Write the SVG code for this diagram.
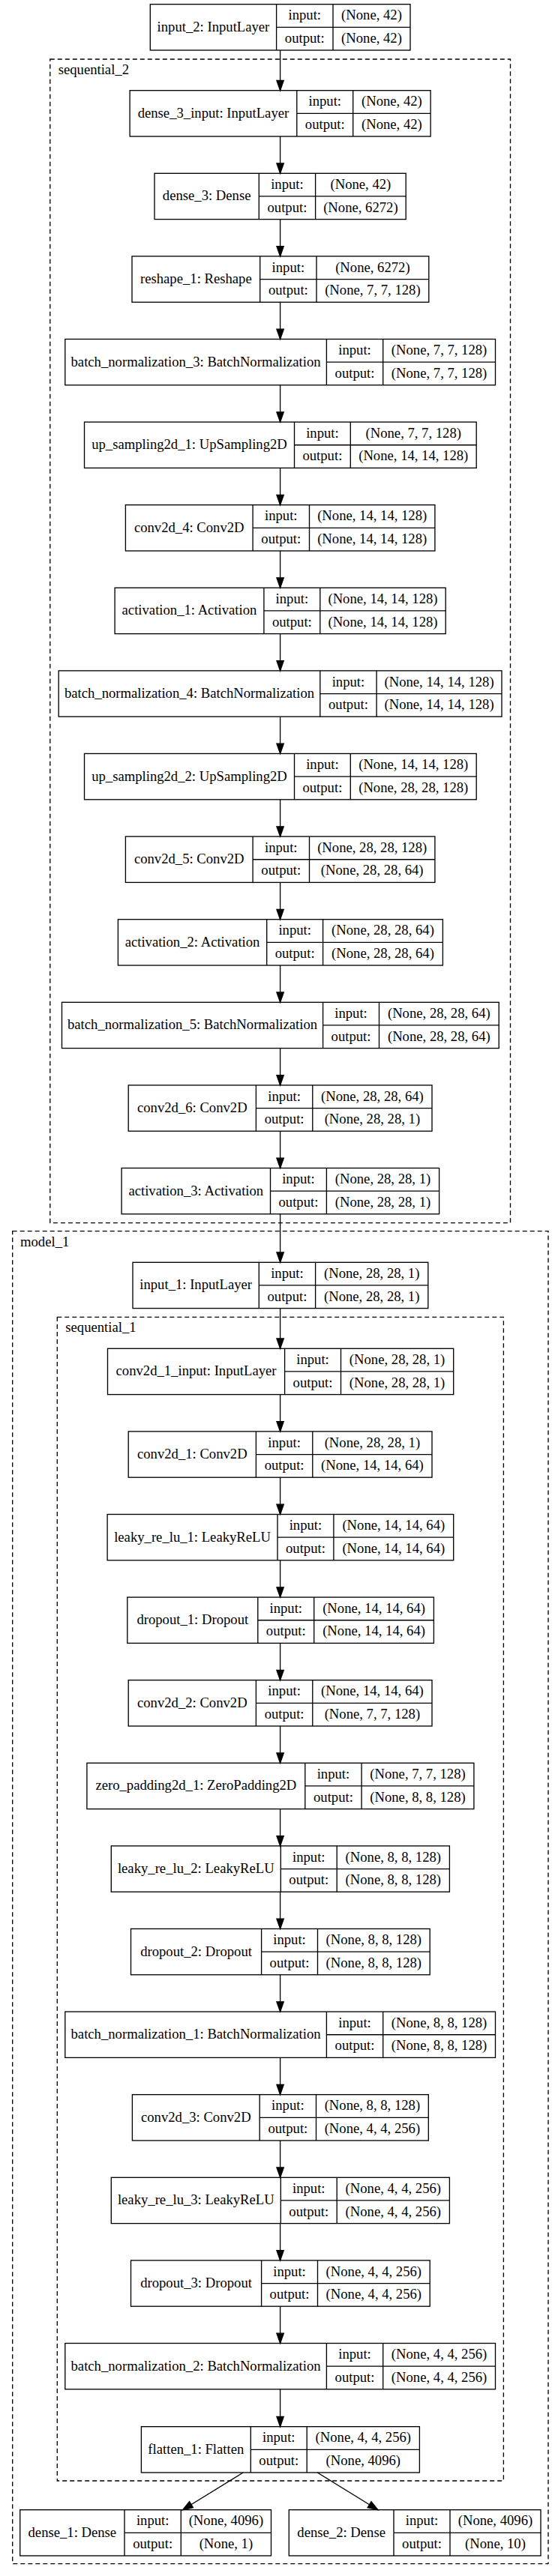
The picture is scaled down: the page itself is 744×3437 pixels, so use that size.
<svg xmlns="http://www.w3.org/2000/svg" width="744" height="3437" viewBox="0 0 744 3437">
<style>
text{font-family:"Liberation Serif","Times New Roman",serif;font-size:18.67px;fill:#000;text-anchor:middle}
.lbl{text-anchor:start}
.n rect,.n path{fill:none;stroke:#000;stroke-width:1.33}
.cl{fill:none;stroke:#000;stroke-width:1.33;stroke-dasharray:6,4}
.e{fill:none;stroke:#000;stroke-width:1.33;marker-end:url(#arr)}
</style>
<defs>
<marker id="arr" markerUnits="userSpaceOnUse" viewBox="-2 -7 18 14" refX="13.3" refY="0" markerWidth="18" markerHeight="14" orient="auto" overflow="visible">
<path d="M0,-4.67 L13.3,0 L0,4.67 Z" fill="#000" stroke="#000" stroke-width="1.33"/>
</marker>
</defs>
<rect x="0" y="0" width="744" height="3437" fill="#fff"/>

<g id="clusters">
<g id="cluster_sequential_2"><rect class="cl" x="66.8" y="79" width="613.7" height="1552.7"/><text class="lbl" x="77.7" y="98.5">sequential_2</text></g>
<g id="cluster_model_1"><rect class="cl" x="16.7" y="1642.7" width="714.3" height="1778"/><text class="lbl" x="27" y="1662.5">model_1</text></g>
<g id="cluster_sequential_1"><rect class="cl" x="76.3" y="1757.3" width="595.1" height="1552.7"/><text class="lbl" x="87.3" y="1776.8">sequential_1</text></g>
</g>

<g id="edges">
<path class="e" d="M373.6,67 V120.7"/>
<path class="e" d="M373.6,182 V231.3"/>
<path class="e" d="M373.6,292.6 V341.9"/>
<path class="e" d="M373.6,403.2 V452.5"/>
<path class="e" d="M373.6,513.8 V563.1"/>
<path class="e" d="M373.6,624.4 V673.7"/>
<path class="e" d="M373.6,735 V784.3"/>
<path class="e" d="M373.6,845.6 V894.9"/>
<path class="e" d="M373.6,956.2 V1005.5"/>
<path class="e" d="M373.6,1066.8 V1116.1"/>
<path class="e" d="M373.6,1177.4 V1226.7"/>
<path class="e" d="M373.6,1288 V1337.3"/>
<path class="e" d="M373.6,1398.6 V1447.9"/>
<path class="e" d="M373.6,1509.2 V1558.5"/>
<path class="e" d="M373.6,1619.8 V1684.3"/>
<path class="e" d="M373.6,1745.6 V1799.3"/>
<path class="e" d="M373.6,1860.6 V1909.9"/>
<path class="e" d="M373.6,1971.2 V2020.5"/>
<path class="e" d="M373.6,2081.8 V2131.1"/>
<path class="e" d="M373.6,2192.4 V2241.7"/>
<path class="e" d="M373.6,2303 V2352.3"/>
<path class="e" d="M373.6,2413.6 V2462.9"/>
<path class="e" d="M373.6,2524.2 V2573.5"/>
<path class="e" d="M373.6,2634.8 V2684.1"/>
<path class="e" d="M373.6,2745.4 V2794.7"/>
<path class="e" d="M373.6,2856 V2905.3"/>
<path class="e" d="M373.6,2966.6 V3015.9"/>
<path class="e" d="M373.6,3077.2 V3126.5"/>
<path class="e" d="M373.6,3187.8 V3237.7"/>
<path class="e" d="M324.2,3299 L243.7,3348.7"/>
<path class="e" d="M423.2,3299 L503.9,3348.7"/>
</g>

<g id="input_2" class="n"><rect x="200.3" y="5.7" width="346.7" height="61.3"/><path d="M368.6,5.7V67M444,5.7V67M368.6,36.35H547"/><text x="284.45" y="41.7">input_2: InputLayer</text><text x="406.3" y="26.3">input:</text><text x="406.3" y="57">output:</text><text x="495.5" y="26.3">(None, 42)</text><text x="495.5" y="57">(None, 42)</text></g>

<g id="dense_3_input" class="n"><rect x="173.1" y="120.7" width="401" height="61.3"/><path d="M395.8,120.7V182M470.7,120.7V182M395.8,151.35H574.1"/><text x="284.45" y="156.7">dense_3_input: InputLayer</text><text x="433.25" y="141.3">input:</text><text x="433.25" y="172">output:</text><text x="522.4" y="141.3">(None, 42)</text><text x="522.4" y="172">(None, 42)</text></g>

<g id="dense_3" class="n"><rect x="206" y="231.3" width="335.2" height="61.3"/><path d="M345.3,231.3V292.6M420.6,231.3V292.6M345.3,261.95H541.2"/><text x="275.65" y="267.3">dense_3: Dense</text><text x="382.95" y="251.9">input:</text><text x="382.95" y="282.6">output:</text><text x="480.9" y="251.9">(None, 42)</text><text x="480.9" y="282.6">(None, 6272)</text></g>

<g id="reshape_1" class="n"><rect x="176" y="341.9" width="395.8" height="61.3"/><path d="M346.7,341.9V403.2M422,341.9V403.2M346.7,372.55H571.8"/><text x="261.35" y="377.9">reshape_1: Reshape</text><text x="384.35" y="362.5">input:</text><text x="384.35" y="393.2">output:</text><text x="496.9" y="362.5">(None, 6272)</text><text x="496.9" y="393.2">(None, 7, 7, 128)</text></g>

<g id="batch_normalization_3" class="n"><rect x="86.8" y="452.5" width="573.7" height="61.3"/><path d="M435.4,452.5V513.8M510.7,452.5V513.8M435.4,483.15H660.5"/><text x="261.1" y="488.5">batch_normalization_3: BatchNormalization</text><text x="473.05" y="473.1">input:</text><text x="473.05" y="503.8">output:</text><text x="585.6" y="473.1">(None, 7, 7, 128)</text><text x="585.6" y="503.8">(None, 7, 7, 128)</text></g>

<g id="up_sampling2d_1" class="n"><rect x="112.5" y="563.1" width="522.7" height="61.3"/><path d="M392.5,563.1V624.4M467.3,563.1V624.4M392.5,593.75H635.2"/><text x="252.5" y="599.1">up_sampling2d_1: UpSampling2D</text><text x="429.9" y="583.7">input:</text><text x="429.9" y="614.4">output:</text><text x="551.25" y="583.7">(None, 7, 7, 128)</text><text x="551.25" y="614.4">(None, 14, 14, 128)</text></g>

<g id="conv2d_4" class="n"><rect x="167.4" y="673.7" width="412.5" height="61.3"/><path d="M337.1,673.7V735M412.5,673.7V735M337.1,704.35H579.9"/><text x="252.25" y="709.7">conv2d_4: Conv2D</text><text x="374.8" y="694.3">input:</text><text x="374.8" y="725">output:</text><text x="496.2" y="694.3">(None, 14, 14, 128)</text><text x="496.2" y="725">(None, 14, 14, 128)</text></g>

<g id="activation_1" class="n"><rect x="153.1" y="784.3" width="441.1" height="61.3"/><path d="M351.9,784.3V845.6M426.8,784.3V845.6M351.9,814.95H594.2"/><text x="252.5" y="820.3">activation_1: Activation</text><text x="389.35" y="804.9">input:</text><text x="389.35" y="835.6">output:</text><text x="510.5" y="804.9">(None, 14, 14, 128)</text><text x="510.5" y="835.6">(None, 14, 14, 128)</text></g>

<g id="batch_normalization_4" class="n"><rect x="78.2" y="894.9" width="590.8" height="61.3"/><path d="M426.8,894.9V956.2M502.1,894.9V956.2M426.8,925.55H669"/><text x="252.5" y="930.9">batch_normalization_4: BatchNormalization</text><text x="464.45" y="915.5">input:</text><text x="464.45" y="946.2">output:</text><text x="585.55" y="915.5">(None, 14, 14, 128)</text><text x="585.55" y="946.2">(None, 14, 14, 128)</text></g>

<g id="up_sampling2d_2" class="n"><rect x="112.5" y="1005.5" width="522.7" height="61.3"/><path d="M392.5,1005.5V1066.8M467.3,1005.5V1066.8M392.5,1036.15H635.2"/><text x="252.5" y="1041.5">up_sampling2d_2: UpSampling2D</text><text x="429.9" y="1026.1">input:</text><text x="429.9" y="1056.8">output:</text><text x="551.25" y="1026.1">(None, 14, 14, 128)</text><text x="551.25" y="1056.8">(None, 28, 28, 128)</text></g>

<g id="conv2d_5" class="n"><rect x="167.4" y="1116.1" width="412.5" height="61.3"/><path d="M337.1,1116.1V1177.4M412.5,1116.1V1177.4M337.1,1146.75H579.9"/><text x="252.25" y="1152.1">conv2d_5: Conv2D</text><text x="374.8" y="1136.7">input:</text><text x="374.8" y="1167.4">output:</text><text x="496.2" y="1136.7">(None, 28, 28, 128)</text><text x="496.2" y="1167.4">(None, 28, 28, 64)</text></g>

<g id="activation_2" class="n"><rect x="157.4" y="1226.7" width="433" height="61.3"/><path d="M355.7,1226.7V1288M430.6,1226.7V1288M355.7,1257.35H590.4"/><text x="256.55" y="1262.7">activation_2: Activation</text><text x="393.15" y="1247.3">input:</text><text x="393.15" y="1278">output:</text><text x="510.5" y="1247.3">(None, 28, 28, 64)</text><text x="510.5" y="1278">(None, 28, 28, 64)</text></g>

<g id="batch_normalization_5" class="n"><rect x="82.5" y="1337.3" width="582.7" height="61.3"/><path d="M430.6,1337.3V1398.6M505.5,1337.3V1398.6M430.6,1367.95H665.2"/><text x="256.55" y="1373.3">batch_normalization_5: BatchNormalization</text><text x="468.05" y="1357.9">input:</text><text x="468.05" y="1388.6">output:</text><text x="585.35" y="1357.9">(None, 28, 28, 64)</text><text x="585.35" y="1388.6">(None, 28, 28, 64)</text></g>

<g id="conv2d_6" class="n"><rect x="171.2" y="1447.9" width="404.8" height="61.3"/><path d="M341.4,1447.9V1509.2M416.8,1447.9V1509.2M341.4,1478.55H576"/><text x="256.3" y="1483.9">conv2d_6: Conv2D</text><text x="379.1" y="1468.5">input:</text><text x="379.1" y="1499.2">output:</text><text x="496.4" y="1468.5">(None, 28, 28, 64)</text><text x="496.4" y="1499.2">(None, 28, 28, 1)</text></g>

<g id="activation_3" class="n"><rect x="162.1" y="1558.5" width="423.5" height="61.3"/><path d="M360.5,1558.5V1619.8M435.4,1558.5V1619.8M360.5,1589.15H585.6"/><text x="261.3" y="1594.5">activation_3: Activation</text><text x="397.95" y="1579.1">input:</text><text x="397.95" y="1609.8">output:</text><text x="510.5" y="1579.1">(None, 28, 28, 1)</text><text x="510.5" y="1609.8">(None, 28, 28, 1)</text></g>

<g id="input_1" class="n"><rect x="177" y="1684.3" width="393.8" height="61.3"/><path d="M345.3,1684.3V1745.6M420.6,1684.3V1745.6M345.3,1714.95H570.8"/><text x="261.15" y="1720.3">input_1: InputLayer</text><text x="382.95" y="1704.9">input:</text><text x="382.95" y="1735.6">output:</text><text x="495.7" y="1704.9">(None, 28, 28, 1)</text><text x="495.7" y="1735.6">(None, 28, 28, 1)</text></g>

<g id="conv2d_1_input" class="n"><rect x="143.5" y="1799.3" width="461.2" height="61.3"/><path d="M379.6,1799.3V1860.6M454.5,1799.3V1860.6M379.6,1829.95H604.7"/><text x="261.55" y="1835.3">conv2d_1_input: InputLayer</text><text x="417.05" y="1819.9">input:</text><text x="417.05" y="1850.6">output:</text><text x="529.6" y="1819.9">(None, 28, 28, 1)</text><text x="529.6" y="1850.6">(None, 28, 28, 1)</text></g>

<g id="conv2d_1" class="n"><rect x="171.2" y="1909.9" width="404.8" height="61.3"/><path d="M341.4,1909.9V1971.2M416.8,1909.9V1971.2M341.4,1940.55H576"/><text x="256.3" y="1945.9">conv2d_1: Conv2D</text><text x="379.1" y="1930.5">input:</text><text x="379.1" y="1961.2">output:</text><text x="496.4" y="1930.5">(None, 28, 28, 1)</text><text x="496.4" y="1961.2">(None, 14, 14, 64)</text></g>

<g id="leaky_re_lu_1" class="n"><rect x="143.1" y="2020.5" width="461.6" height="61.3"/><path d="M370,2020.5V2081.8M444.9,2020.5V2081.8M370,2051.15H604.7"/><text x="256.55" y="2056.5">leaky_re_lu_1: LeakyReLU</text><text x="407.45" y="2041.1">input:</text><text x="407.45" y="2071.8">output:</text><text x="524.8" y="2041.1">(None, 14, 14, 64)</text><text x="524.8" y="2071.8">(None, 14, 14, 64)</text></g>

<g id="dropout_1" class="n"><rect x="169.8" y="2131.1" width="408.6" height="61.3"/><path d="M343.8,2131.1V2192.4M418.7,2131.1V2192.4M343.8,2161.75H578.4"/><text x="256.8" y="2167.1">dropout_1: Dropout</text><text x="381.25" y="2151.7">input:</text><text x="381.25" y="2182.4">output:</text><text x="498.55" y="2151.7">(None, 14, 14, 64)</text><text x="498.55" y="2182.4">(None, 14, 14, 64)</text></g>

<g id="conv2d_2" class="n"><rect x="171.2" y="2241.7" width="404.8" height="61.3"/><path d="M341.4,2241.7V2303M416.8,2241.7V2303M341.4,2272.35H576"/><text x="256.3" y="2277.7">conv2d_2: Conv2D</text><text x="379.1" y="2262.3">input:</text><text x="379.1" y="2293">output:</text><text x="496.4" y="2262.3">(None, 14, 14, 64)</text><text x="496.4" y="2293">(None, 7, 7, 128)</text></g>

<g id="zero_padding2d_1" class="n"><rect x="115.9" y="2352.3" width="516" height="61.3"/><path d="M406.8,2352.3V2413.6M482.1,2352.3V2413.6M406.8,2382.95H631.9"/><text x="261.35" y="2388.3">zero_padding2d_1: ZeroPadding2D</text><text x="444.45" y="2372.9">input:</text><text x="444.45" y="2403.6">output:</text><text x="557" y="2372.9">(None, 7, 7, 128)</text><text x="557" y="2403.6">(None, 8, 8, 128)</text></g>

<g id="leaky_re_lu_2" class="n"><rect x="148.3" y="2462.9" width="451.1" height="61.3"/><path d="M374.3,2462.9V2524.2M449.2,2462.9V2524.2M374.3,2493.55H599.4"/><text x="261.3" y="2498.9">leaky_re_lu_2: LeakyReLU</text><text x="411.75" y="2483.5">input:</text><text x="411.75" y="2514.2">output:</text><text x="524.3" y="2483.5">(None, 8, 8, 128)</text><text x="524.3" y="2514.2">(None, 8, 8, 128)</text></g>

<g id="dropout_2" class="n"><rect x="174.5" y="2573.5" width="398.7" height="61.3"/><path d="M348.6,2573.5V2634.8M423.5,2573.5V2634.8M348.6,2604.15H573.2"/><text x="261.55" y="2609.5">dropout_2: Dropout</text><text x="386.05" y="2594.1">input:</text><text x="386.05" y="2624.8">output:</text><text x="498.35" y="2594.1">(None, 8, 8, 128)</text><text x="498.35" y="2624.8">(None, 8, 8, 128)</text></g>

<g id="batch_normalization_1" class="n"><rect x="86.8" y="2684.1" width="573.7" height="61.3"/><path d="M435.4,2684.1V2745.4M510.7,2684.1V2745.4M435.4,2714.75H660.5"/><text x="261.1" y="2720.1">batch_normalization_1: BatchNormalization</text><text x="473.05" y="2704.7">input:</text><text x="473.05" y="2735.4">output:</text><text x="585.6" y="2704.7">(None, 8, 8, 128)</text><text x="585.6" y="2735.4">(None, 8, 8, 128)</text></g>

<g id="conv2d_3" class="n"><rect x="176.4" y="2794.7" width="394.9" height="61.3"/><path d="M346.2,2794.7V2856M421.5,2794.7V2856M346.2,2825.35H571.3"/><text x="261.3" y="2830.7">conv2d_3: Conv2D</text><text x="383.85" y="2815.3">input:</text><text x="383.85" y="2846">output:</text><text x="496.4" y="2815.3">(None, 8, 8, 128)</text><text x="496.4" y="2846">(None, 4, 4, 256)</text></g>

<g id="leaky_re_lu_3" class="n"><rect x="148.3" y="2905.3" width="451.1" height="61.3"/><path d="M374.3,2905.3V2966.6M449.2,2905.3V2966.6M374.3,2935.95H599.4"/><text x="261.3" y="2941.3">leaky_re_lu_3: LeakyReLU</text><text x="411.75" y="2925.9">input:</text><text x="411.75" y="2956.6">output:</text><text x="524.3" y="2925.9">(None, 4, 4, 256)</text><text x="524.3" y="2956.6">(None, 4, 4, 256)</text></g>

<g id="dropout_3" class="n"><rect x="174.5" y="3015.9" width="398.7" height="61.3"/><path d="M348.6,3015.9V3077.2M423.5,3015.9V3077.2M348.6,3046.55H573.2"/><text x="261.55" y="3051.9">dropout_3: Dropout</text><text x="386.05" y="3036.5">input:</text><text x="386.05" y="3067.2">output:</text><text x="498.35" y="3036.5">(None, 4, 4, 256)</text><text x="498.35" y="3067.2">(None, 4, 4, 256)</text></g>

<g id="batch_normalization_2" class="n"><rect x="86.8" y="3126.5" width="573.7" height="61.3"/><path d="M435.4,3126.5V3187.8M510.7,3126.5V3187.8M435.4,3157.15H660.5"/><text x="261.1" y="3162.5">batch_normalization_2: BatchNormalization</text><text x="473.05" y="3147.1">input:</text><text x="473.05" y="3177.8">output:</text><text x="585.6" y="3147.1">(None, 4, 4, 256)</text><text x="585.6" y="3177.8">(None, 4, 4, 256)</text></g>

<g id="flatten_1" class="n"><rect x="188.4" y="3237.7" width="371" height="61.3"/><path d="M334.3,3237.7V3299M409.2,3237.7V3299M334.3,3268.35H559.4"/><text x="261.35" y="3273.7">flatten_1: Flatten</text><text x="371.75" y="3258.3">input:</text><text x="371.75" y="3289">output:</text><text x="484.3" y="3258.3">(None, 4, 4, 256)</text><text x="484.3" y="3289">(None, 4096)</text></g>

<g id="dense_1" class="n"><rect x="26.7" y="3348.7" width="334.8" height="61.3"/><path d="M166,3348.7V3410M241.3,3348.7V3410M166,3379.35H361.5"/><text x="96.35" y="3384.7">dense_1: Dense</text><text x="203.65" y="3369.3">input:</text><text x="203.65" y="3400">output:</text><text x="301.4" y="3369.3">(None, 4096)</text><text x="301.4" y="3400">(None, 1)</text></g>

<g id="dense_2" class="n"><rect x="385.3" y="3348.7" width="335.7" height="61.3"/><path d="M525,3348.7V3410M600,3348.7V3410M525,3379.35H721"/><text x="455.15" y="3384.7">dense_2: Dense</text><text x="562.5" y="3369.3">input:</text><text x="562.5" y="3400">output:</text><text x="660.5" y="3369.3">(None, 4096)</text><text x="660.5" y="3400">(None, 10)</text></g>
</svg>
